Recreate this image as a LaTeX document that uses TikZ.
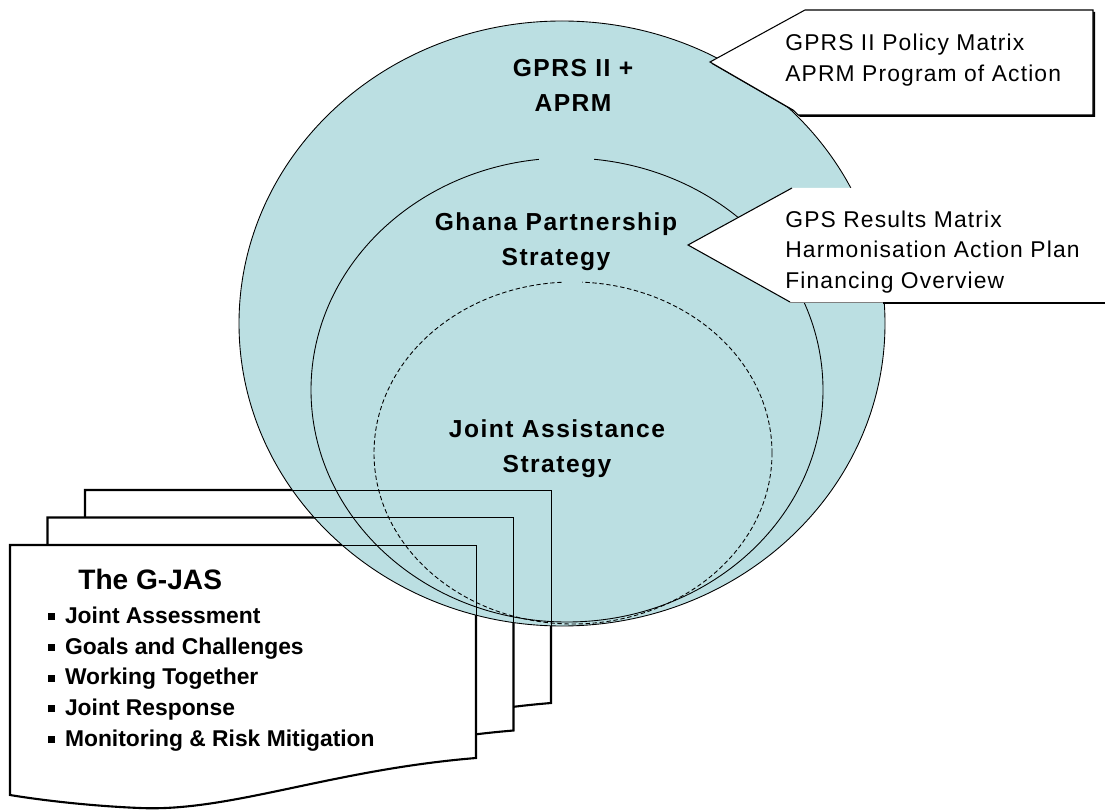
\documentclass[tikz,border=0pt]{standalone}
\usepackage{fontspec}
\setmainfont{Liberation Sans}
\newfontfamily\ringfont[LetterSpace=6]{Liberation Sans}
\newfontfamily\notefont[LetterSpace=5]{Liberation Sans}
\usetikzlibrary{positioning}
\definecolor{circlefill}{RGB}{187,223,226}
\tikzstyle{ring} = [draw=black,line width=.5pt]
\tikzstyle{innerring} = [draw=black,line width=.5pt,dash pattern=on 2.5pt off 1.5pt]
\tikzstyle{page} = [draw=black,fill=white,line width=1.2pt]
\tikzstyle{callout} = [draw=black,fill=white,line width=.6pt]
\tikzstyle{level} = [font=\ringfont\bfseries\fontsize{14}{20}\selectfont,align=center,inner sep=0pt]
\tikzstyle{note} = [font=\notefont\fontsize{13}{17.2}\selectfont,align=left,anchor=west,inner sep=0pt]
\tikzstyle{list} = [font=\bfseries\fontsize{13}{17.5}\selectfont,align=left,anchor=west,inner sep=0pt]
\newcommand{\sqbullet}{\rule[1.8pt]{4pt}{4pt}\hspace{5.5pt}}

\begin{document}
\begin{tikzpicture}[x=0.02cm,y=-0.02cm]
	\useasboundingbox (0,0) rectangle (1105,810);

	% stacked G-JAS pages
	\foreach \px/\py in {85/490,47.5/517.5,10/545}
		\draw[page] (\px,\py) -- ({\px+466},\py) -- ({\px+466},{\py+213}) .. controls ({\px+320},{\py+225}) and ({\px+220},{\py+267}) .. ({\px+130},{\py+263}) .. controls ({\px+80},{\py+261}) and ({\px+30},{\py+255}) .. (\px,{\py+250}) -- cycle;

	% the rings
	\fill[circlefill] (562,323.5) ellipse [x radius=323,y radius=302.5];
	\begin{scope}
		\clip (562,323.5) ellipse [x radius=323,y radius=302.5];
		\foreach \px/\py in {85/490,47.5/517.5,10/545}
			\draw[line width=.5pt] (\px,\py) -- ({\px+466},\py) -- ({\px+466},{\py+213});
	\end{scope}
	\draw[ring] (562,323.5) ellipse [x radius=323,y radius=302.5];
	\draw[ring] (567,390) ellipse [x radius=256,y radius=232];
	\draw[innerring] (573,453) ellipse [x radius=199,y radius=171];
	\fill[circlefill] (539,150) rectangle (594,166);
	\fill[circlefill] (562,276) rectangle (582,289);

	% callouts
	\fill[black] (807,12) -- (1095,12) -- (1095,117) -- (800,117) -- (795,112) -- (712,64) -- cycle;
	\draw[callout] (805,10) -- (1093,10) -- (1093,115) -- (798,115) -- (793,110) -- (710,62) -- cycle;
	\fill[white] (792,188) -- (1105,188) -- (1105,302) -- (790,302) -- (688,245) -- cycle;
	\draw[line width=.6pt] (792,188) -- (688,245) -- (790,302);
	\draw[line width=.4pt,gray] (790,302) -- (883,302);
	\draw[line width=1pt] (883,303) -- (1105,303);

	% labels
	\node[level] (gprs) at (573,85) {GPRS II +\\APRM};
	\node[level] (gps) at (556,242) {Ghana Partnership\\Strategy};
	\node[level] (jas) at (557,449) {Joint Assistance\\Strategy};

	\node[note] (policy) at (785,60) {GPRS II Policy Matrix\\APRM Program of Action};
	\node[note] (results) at (785,252) {GPS Results Matrix\\Harmonisation Action Plan\\Financing Overview};

	\node[font=\bfseries\fontsize{16}{19}\selectfont,anchor=west,inner sep=0pt] (gjas) at (78,579) {The G-JAS};
	\node[list] (items) at (48,679) {\sqbullet Joint Assessment\\\sqbullet Goals and Challenges\\\sqbullet Working Together\\\sqbullet Joint Response\\\sqbullet Monitoring \& Risk Mitigation};

\end{tikzpicture}
\end{document}
